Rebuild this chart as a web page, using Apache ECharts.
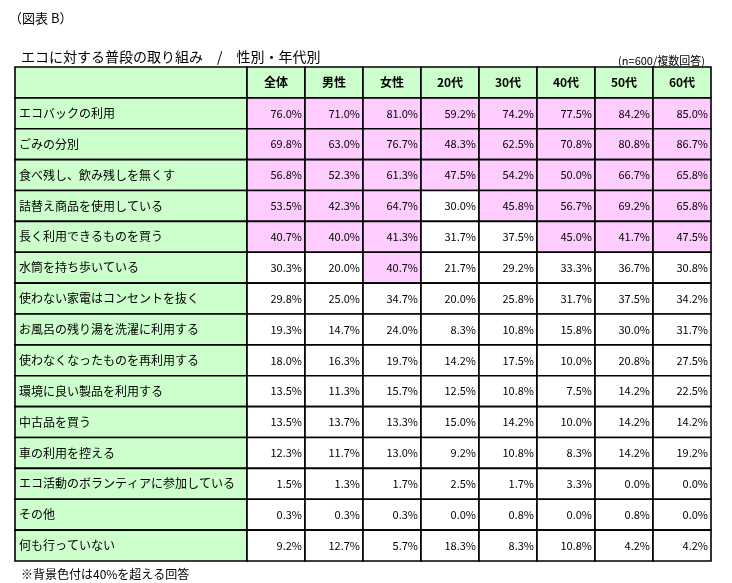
<!DOCTYPE html>
<html><head><meta charset="utf-8">
<script src="https://cdn.jsdelivr.net/npm/echarts@6/dist/echarts.min.js"></script>
<style>html,body{margin:0;padding:0;background:#fff}#c{width:732px;height:583px}</style>
</head><body><div id="c"></div>
<script>
const columns = ['全体','男性','女性','20代','30代','40代','50代','60代'];
const items = ['エコバックの利用','ごみの分別','食べ残し、飲み残しを無くす','詰替え商品を使用している','長く利用できるものを買う','水筒を持ち歩いている','使わない家電はコンセントを抜く','お風呂の残り湯を洗濯に利用する','使わなくなったものを再利用する','環境に良い製品を利用する','中古品を買う','車の利用を控える','エコ活動のボランティアに参加している','その他','何も行っていない'];
const values = [
 [76.0,71.0,81.0,59.2,74.2,77.5,84.2,85.0],
 [69.8,63.0,76.7,48.3,62.5,70.8,80.8,86.7],
 [56.8,52.3,61.3,47.5,54.2,50.0,66.7,65.8],
 [53.5,42.3,64.7,30.0,45.8,56.7,69.2,65.8],
 [40.7,40.0,41.3,31.7,37.5,45.0,41.7,47.5],
 [30.3,20.0,40.7,21.7,29.2,33.3,36.7,30.8],
 [29.8,25.0,34.7,20.0,25.8,31.7,37.5,34.2],
 [19.3,14.7,24.0,8.3,10.8,15.8,30.0,31.7],
 [18.0,16.3,19.7,14.2,17.5,10.0,20.8,27.5],
 [13.5,11.3,15.7,12.5,10.8,7.5,14.2,22.5],
 [13.5,13.7,13.3,15.0,14.2,10.0,14.2,14.2],
 [12.3,11.7,13.0,9.2,10.8,8.3,14.2,19.2],
 [1.5,1.3,1.7,2.5,1.7,3.3,0.0,0.0],
 [0.3,0.3,0.3,0.0,0.8,0.0,0.8,0.0],
 [9.2,12.7,5.7,18.3,8.3,10.8,4.2,4.2]
];
const LABEL_SPAN = 4;
const GREEN='#ccffcc', PINK='#ffccff';
const data = [];
data.push([0, LABEL_SPAN, 0, '', 'h']);
columns.forEach((c,i)=>data.push([LABEL_SPAN+i, LABEL_SPAN+i+1, 0, c, 'h']));
items.forEach((it,r)=>{
  data.push([0, LABEL_SPAN, r+1, it, 'l']);
  values[r].forEach((v,i)=>data.push([LABEL_SPAN+i, LABEL_SPAN+i+1, r+1, v.toFixed(1)+'%', v>=40?'p':'w']));
});
const chart = echarts.init(document.getElementById('c'));
chart.setOption({
  animation:false,
  title:[
    {text:'（図表 B）',left:4,top:7,textStyle:{fontSize:13,fontWeight:'normal',color:'#000',fontFamily:'Noto Sans CJK JP'}},
    {text:'エコに対する普段の取り組み　/　性別・年代別',left:16,top:45,textStyle:{fontSize:14,fontWeight:'normal',color:'#000',fontFamily:'Noto Sans CJK JP'}},
    {text:'(n=600/複数回答)',right:22,top:50,textStyle:{fontSize:11,fontWeight:'normal',color:'#000',fontFamily:'Noto Sans CJK JP'}},
    {text:'※背景色付は40%を超える回答',left:16,top:563,textStyle:{fontSize:12,fontWeight:'normal',color:'#000',fontFamily:'Noto Sans CJK JP'}}
  ],
  grid:{left:15,right:21,top:67,bottom:22},
  xAxis:{type:'value',min:0,max:LABEL_SPAN+columns.length,show:false},
  yAxis:{type:'value',min:0,max:items.length+1,inverse:true,show:false},
  series:[{
    type:'custom',
    data:data,
    renderItem:function(params,api){
      const x0=api.value(0),x1=api.value(1),r=api.value(2);
      const d=data[params.dataIndex];
      const p0=api.coord([x0,r]),p1=api.coord([x1,r+1]);
      const kind=d[4];
      const fill = kind==='p'?PINK:(kind==='w'?'#ffffff':GREEN);
      let tx,ta;
      if(kind==='h'){tx=(p0[0]+p1[0])/2;ta='center';}
      else if(kind==='l'){tx=p0[0]+4;ta='left';}
      else {tx=p1[0]-3;ta='right';}
      return {type:'group',children:[
        {type:'rect',shape:{x:p0[0],y:p0[1],width:p1[0]-p0[0],height:p1[1]-p0[1]},
         style:{fill:fill,stroke:'#000',lineWidth:1.6}},
        {type:'text',style:{x:tx,y:(p0[1]+p1[1])/2,text:d[3],textAlign:ta,textVerticalAlign:'middle',
          fill:'#000',font:(kind==='h'?'bold 12px':(kind==='l'?'12px':'11px'))+' "Noto Sans CJK JP", sans-serif'}}
      ]};
    }
  }]
});
</script></body></html>
